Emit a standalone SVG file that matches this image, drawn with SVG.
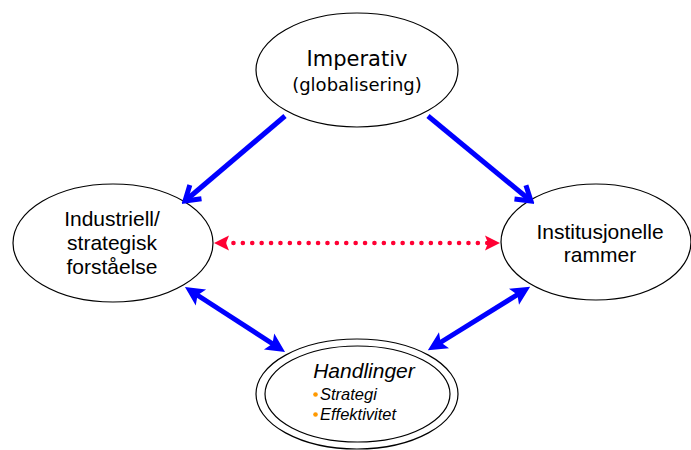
<svg xmlns="http://www.w3.org/2000/svg" width="691" height="450" viewBox="0 0 691 450">
<style>
.node ellipse{fill:#fff;stroke:#000;stroke-width:1.2}
.sans{font-family:"Liberation Sans",Arial,sans-serif;fill:#000}
.mid{text-anchor:middle}
.start{text-anchor:start}
.comic{font-family:"DejaVu Sans",sans-serif;fill:#000;text-anchor:middle}
.blue{stroke:#0000ff;stroke-width:5;fill:none}
.red{stroke:#ff0033;stroke-width:4.5;fill:none;stroke-linecap:round;stroke-dasharray:0.1 9.3}
.bullet{fill:#ff9900}
</style>
<defs>
<marker id="chev" markerUnits="userSpaceOnUse" viewBox="-20 -12 24 24" markerWidth="24" markerHeight="24" refX="0" refY="0" orient="auto">
<path d="M-14 -9 L0 0 L-14 9" fill="none" stroke="#0000ff" stroke-width="5" stroke-linejoin="miter"/>
</marker>
<marker id="bhead" markerUnits="userSpaceOnUse" viewBox="-14 -12 26 24" markerWidth="26" markerHeight="24" refX="0" refY="0" orient="auto-start-reverse">
<path d="M9 0 L-10 -9.5 L-6 0 L-10 9.5 Z" fill="#0000ff"/>
</marker>
<marker id="rhead" markerUnits="userSpaceOnUse" viewBox="-10 -10 22 20" markerWidth="22" markerHeight="20" refX="0" refY="0" orient="auto-start-reverse">
<path d="M10 0 L-5 -7.5 L-2 0 L-5 7.5 Z" fill="#ff0033"/>
</marker>
</defs>

<g id="top" class="node">
<ellipse cx="357" cy="70" rx="101" ry="57"/>
<text class="comic" x="357" y="66" font-size="21">Imperativ</text>
<text class="comic" x="357" y="91" font-size="18">(globalisering)</text>
</g>

<g id="left" class="node">
<ellipse cx="113" cy="243" rx="100" ry="59"/>
<text class="sans mid" x="112" y="226" font-size="21">Industriell/</text>
<text class="sans mid" x="112" y="250" font-size="21">strategisk</text>
<text class="sans mid" x="112" y="274" font-size="21">forståelse</text>
</g>

<g id="right" class="node">
<ellipse cx="596" cy="242" rx="95" ry="58"/>
<text class="sans mid" x="600" y="239" font-size="21">Institusjonelle</text>
<text class="sans mid" x="600" y="262" font-size="21">rammer</text>
</g>

<g id="bottom" class="node">
<ellipse cx="357" cy="394" rx="101" ry="55"/>
<ellipse cx="357.5" cy="394" rx="92.5" ry="48"/>
<text class="sans mid" x="364" y="378" font-size="21" font-style="italic">Handlinger</text>
<circle class="bullet" cx="315.5" cy="394.5" r="2.3"/>
<text class="sans start" x="320" y="400" font-size="16.5" font-style="italic">Strategi</text>
<circle class="bullet" cx="315.5" cy="414.5" r="2.3"/>
<text class="sans start" x="320" y="420" font-size="16.5" font-style="italic">Effektivitet</text>
</g>

<g id="connectors">
<line class="blue" x1="285" y1="116" x2="185" y2="201" marker-end="url(#chev)"/>
<line class="blue" x1="428" y1="116" x2="531" y2="201" marker-end="url(#chev)"/>
<line class="red" x1="224" y1="243" x2="490" y2="243" marker-start="url(#rhead)" marker-end="url(#rhead)"/>
<line class="blue" x1="192.5" y1="292" x2="277.5" y2="347" marker-start="url(#bhead)" marker-end="url(#bhead)"/>
<line class="blue" x1="522.5" y1="291.5" x2="435.5" y2="345.5" marker-start="url(#bhead)" marker-end="url(#bhead)"/>
</g>
</svg>
